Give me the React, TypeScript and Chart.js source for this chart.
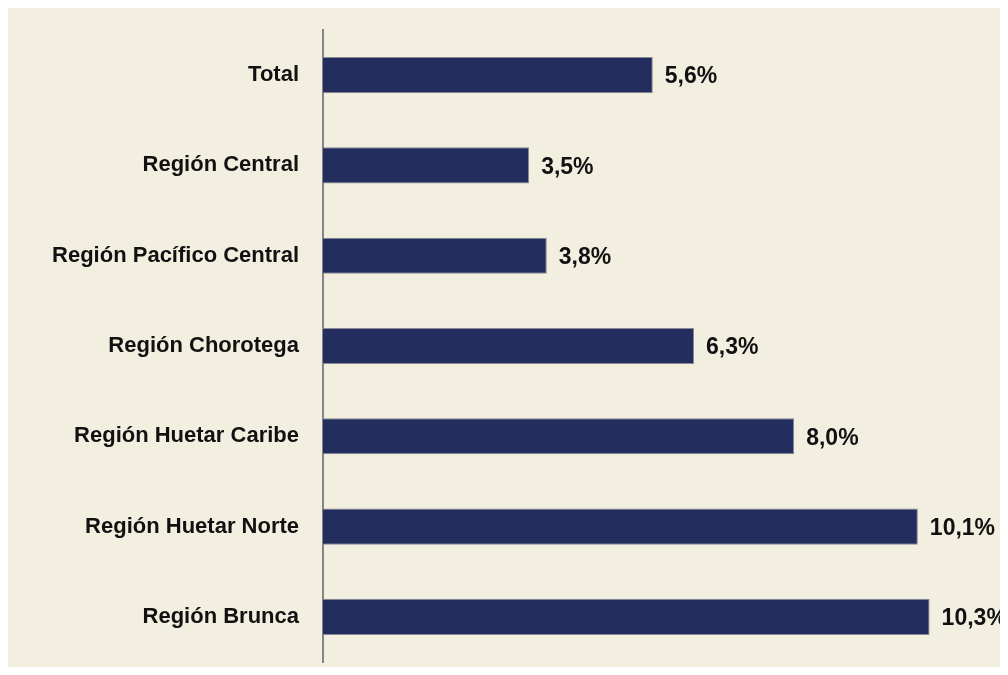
import React, { useEffect, useRef } from "react";
import { Chart, registerables } from "chart.js";

Chart.register(...registerables);

const categories = [
  "Total",
  "Región Central",
  "Región Pacífico Central",
  "Región Chorotega",
  "Región Huetar Caribe",
  "Región Huetar Norte",
  "Región Brunca",
];
const values = [5.6, 3.5, 3.8, 6.3, 8.0, 10.1, 10.3];

const FONT = "'Liberation Sans', Arial, sans-serif";

const valueLabels = {
  id: "valueLabels",
  afterDatasetsDraw(chart: any) {
    const ctx = chart.ctx;
    const meta = chart.getDatasetMeta(0);
    ctx.save();
    ctx.font = `bold 23px ${FONT}`;
    ctx.fillStyle = "#111111";
    ctx.textAlign = "left";
    ctx.textBaseline = "middle";
    meta.data.forEach((bar: any, i: number) => {
      const txt = values[i].toFixed(1).replace(".", ",") + "%";
      ctx.fillText(txt, bar.x + 12, bar.y + 2);
    });
    ctx.restore();
  },
};

export default function App() {
  const ref = useRef<HTMLCanvasElement>(null);
  useEffect(() => {
    if (!ref.current) return;
    const chart = new Chart(ref.current, {
      type: "bar",
      data: {
        labels: categories,
        datasets: [
          {
            data: values,
            backgroundColor: "#232D5E",
            borderColor: "#8A8A96",
            borderWidth: 1,
            barPercentage: 0.8,
            categoryPercentage: 0.5,
          },
        ],
      },
      options: {
        indexAxis: "y",
        animation: false,
        responsive: false,
        maintainAspectRatio: false,
        layout: { padding: { top: 22, bottom: 5, left: 0, right: 3 } },
        plugins: {
          legend: { display: false },
          tooltip: { enabled: false },
        },
        scales: {
          x: {
            display: false,
            min: 0,
            max: 11.58,
          },
          y: {
            afterFit(scale: any) {
              scale.width = 315;
              scale.paddingTop = 0;
              scale.paddingBottom = 0;
            },
            grid: { display: false, drawTicks: false },
            border: { display: true, color: "#858585", width: 2 },
            ticks: {
              padding: 24,
              color: "#111111",
              font: { family: FONT, size: 22, weight: "bold" },
            },
          },
        },
      },
      plugins: [valueLabels],
    });
    return () => chart.destroy();
  }, []);
  return (
    <div style={{ width: 1000, height: 659, background: "#F2EFE1" }}>
      <canvas ref={ref} width={1000} height={659} style={{ display: "block" }} />
    </div>
  );
}
